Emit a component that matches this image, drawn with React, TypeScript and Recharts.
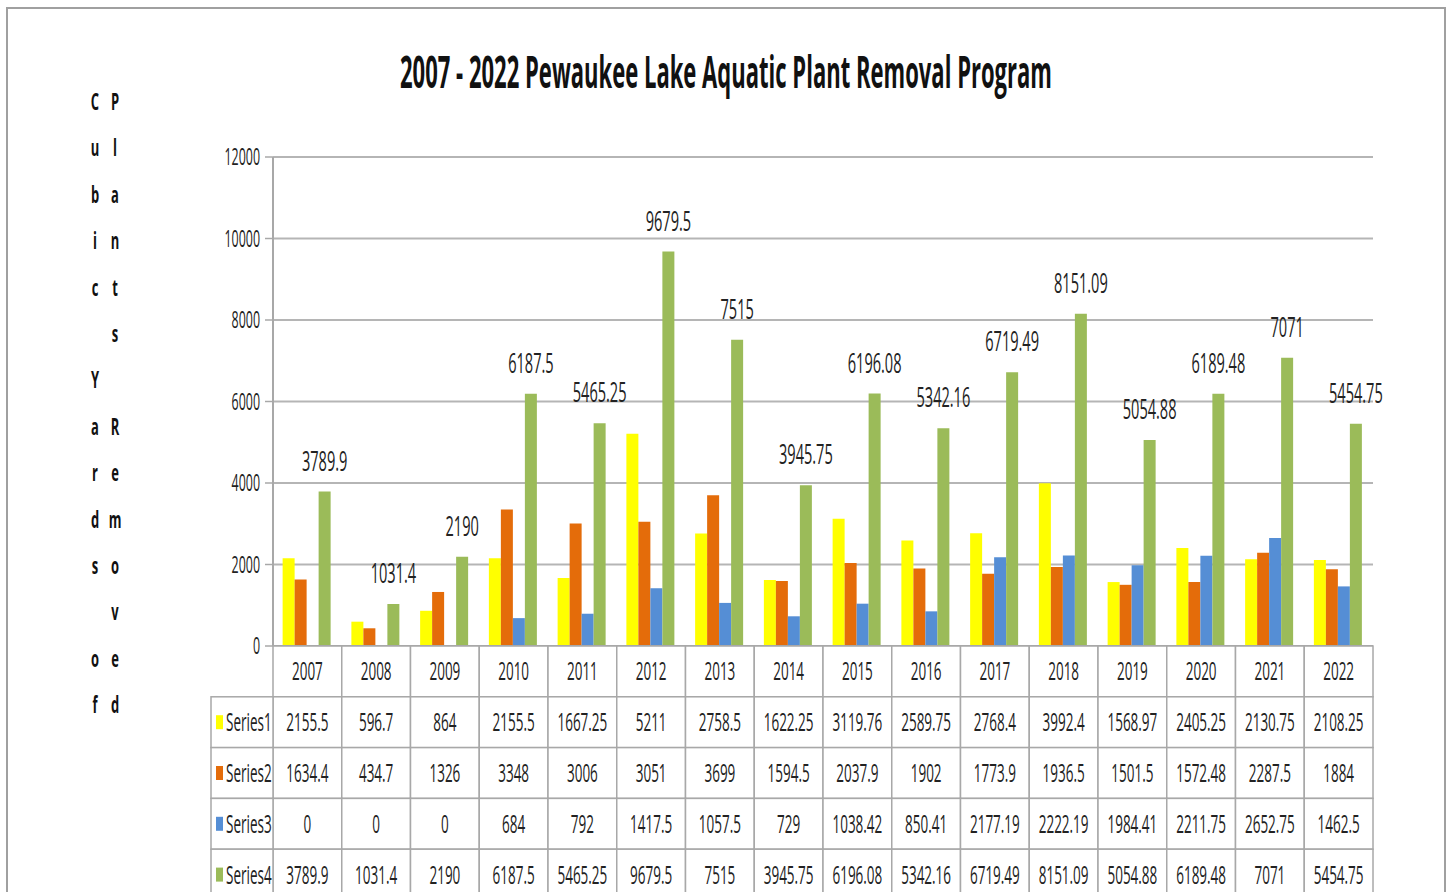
import React from 'react';
import { BarChart, Bar, XAxis, YAxis, CartesianGrid, LabelList, Customized } from 'recharts';

const years = ['2007', '2008', '2009', '2010', '2011', '2012', '2013', '2014', '2015', '2016', '2017', '2018', '2019', '2020', '2021', '2022'];
const series1 = [2155.5, 596.7, 864, 2155.5, 1667.25, 5211, 2758.5, 1622.25, 3119.76, 2589.75, 2768.4, 3992.4, 1568.97, 2405.25, 2130.75, 2108.25];
const series2 = [1634.4, 434.7, 1326, 3348, 3006, 3051, 3699, 1594.5, 2037.9, 1902, 1773.9, 1936.5, 1501.5, 1572.48, 2287.5, 1884];
const series3 = [0, 0, 0, 684, 792, 1417.5, 1057.5, 729, 1038.42, 850.41, 2177.19, 2222.19, 1984.41, 2211.75, 2652.75, 1462.5];
const series4 = [3789.9, 1031.4, 2190, 6187.5, 5465.25, 9679.5, 7515, 3945.75, 6196.08, 5342.16, 6719.49, 8151.09, 5054.88, 6189.48, 7071, 5454.75];
const seriesNames = ['Series1', 'Series2', 'Series3', 'Series4'];
const seriesColors = ['#FFFF00', '#E46C0A', '#558ED5', '#9BBB59'];
const seriesValues = [series1, series2, series3, series4];
const yTicks = [0, 2000, 4000, 6000, 8000, 10000, 12000];
const title = '2007 - 2022 Pewaukee Lake Aquatic Plant Removal Program';
const yTitleCol1 = 'Cubic Yards of';
const yTitleCol2 = 'Plants Removed';

const data = years.map((year, i) => ({
  year,
  s1: series1[i],
  s2: series2[i],
  s3: series3[i],
  s4: series4[i],
}));

const FONT = '"Open Sans", "Noto Sans", "DejaVu Sans", sans-serif';
const SX = 0.54;
const ROW_H = 50.8;
const LABEL_W = 62;
const LINE = '#a8a8a8';
const TEXT = '#222222';

function SqText({ x, y, children, size = 25, weight = 400, anchor = 'middle', fill = TEXT }: any) {
  return (
    <text
      transform={`translate(${x},${y}) scale(${SX},1)`}
      x={0}
      y={0}
      textAnchor={anchor}
      fontFamily={FONT}
      fontSize={size}
      fontWeight={weight}
      fill={fill}
    >
      {children}
    </text>
  );
}

function makeTick(row: number) {
  return (props: any) => {
    const { x, y, payload, index } = props;
    const half = payload && typeof payload.offset === 'number' && payload.offset > 0 ? payload.offset : 34.375;
    const i = payload && typeof payload.index === 'number' ? payload.index : index;
    const val = row === 0 ? years[i] : String(seriesValues[row - 1][i]);
    return (
      <g>
        <rect x={x - half} y={y} width={2 * half} height={ROW_H} fill="#ffffff" stroke={LINE} strokeWidth={1.5} />
        <SqText x={x} y={y + ROW_H / 2 + 9} size={25}>{val}</SqText>
        {row > 0 && i === 0 && (
          <g>
            <rect x={x - half - LABEL_W} y={y} width={LABEL_W} height={ROW_H} fill="#ffffff" stroke={LINE} strokeWidth={1.5} />
            <rect x={x - half - LABEL_W + 5} y={y + ROW_H / 2 - 7} width={7} height={14} fill={seriesColors[row - 1]} />
            <SqText x={x - half - LABEL_W + 15} y={y + ROW_H / 2 + 9} size={25} anchor="start">{seriesNames[row - 1]}</SqText>
          </g>
        )}
      </g>
    );
  };
}

const YTick = (props: any) => {
  const { x, y, payload } = props;
  return <SqText x={x} y={y + 8} size={23} anchor="end">{String(payload.value)}</SqText>;
};

const TopLabel = (props: any) => {
  const { x, y, width, value } = props;
  return <SqText x={x + width / 2} y={y - 21} size={27}>{String(value)}</SqText>;
};

const Decorations = () => (
  <g>
    <text
      x={718}
      y={79}
      textAnchor="middle"
      fontFamily={FONT}
      fontSize={45}
      fontWeight={700}
      fill="#111111"
      textLength={652}
      lengthAdjust="spacingAndGlyphs"
    >
      {title}
    </text>
    {yTitleCol1.split('').map((ch, i) => (
      <SqText key={`a${i}`} x={87} y={101 + i * 46.4} size={24} weight={700} fill="#111111">{ch === ' ' ? '' : ch}</SqText>
    ))}
    {yTitleCol2.split('').map((ch, i) => (
      <SqText key={`b${i}`} x={107} y={101 + i * 46.4} size={24} weight={700} fill="#111111">{ch === ' ' ? '' : ch}</SqText>
    ))}
  </g>
);

export default function App() {
  return (
    <div
      style={{
        position: 'absolute',
        left: 6,
        top: 7,
        width: 1440,
        height: 885,
        boxSizing: 'border-box',
        border: '2px solid #a0a0a0',
        borderBottom: 'none',
        overflow: 'hidden',
        background: '#ffffff',
      }}
    >
      <BarChart
        width={1436}
        height={900}
        data={data}
        margin={{ top: 148, right: 71, bottom: 9, left: 205 }}
        barCategoryGap="14%"
        barGap={0}
      >
        <CartesianGrid vertical={false} stroke="#b5b5b5" strokeWidth={2} />
        <XAxis xAxisId="row0" dataKey="year" interval={0} height={ROW_H} tickSize={0} tickMargin={0} tickLine={false} axisLine={{ stroke: LINE, strokeWidth: 2 }} tick={makeTick(0)} />
        <XAxis xAxisId="row1" dataKey="year" interval={0} height={ROW_H} tickSize={0} tickMargin={0} tickLine={false} axisLine={false} tick={makeTick(1)} />
        <XAxis xAxisId="row2" dataKey="year" interval={0} height={ROW_H} tickSize={0} tickMargin={0} tickLine={false} axisLine={false} tick={makeTick(2)} />
        <XAxis xAxisId="row3" dataKey="year" interval={0} height={ROW_H} tickSize={0} tickMargin={0} tickLine={false} axisLine={false} tick={makeTick(3)} />
        <XAxis xAxisId="row4" dataKey="year" interval={0} height={ROW_H} tickSize={0} tickMargin={0} tickLine={false} axisLine={false} tick={makeTick(4)} />
        <YAxis
          width={60}
          domain={[0, 12000]}
          ticks={yTicks}
          interval={0}
          tickSize={8}
          tickMargin={5}
          tickLine={{ stroke: LINE, strokeWidth: 1.5 }}
          axisLine={{ stroke: LINE, strokeWidth: 2 }}
          tick={<YTick />}
        />
        <Bar xAxisId="row0" dataKey="s1" fill={seriesColors[0]} isAnimationActive={false} />
        <Bar xAxisId="row0" dataKey="s2" fill={seriesColors[1]} isAnimationActive={false} />
        <Bar xAxisId="row0" dataKey="s3" fill={seriesColors[2]} isAnimationActive={false} />
        <Bar xAxisId="row0" dataKey="s4" fill={seriesColors[3]} isAnimationActive={false}>
          <LabelList dataKey="s4" content={<TopLabel />} />
        </Bar>
        <Customized component={<Decorations />} />
      </BarChart>
    </div>
  );
}
